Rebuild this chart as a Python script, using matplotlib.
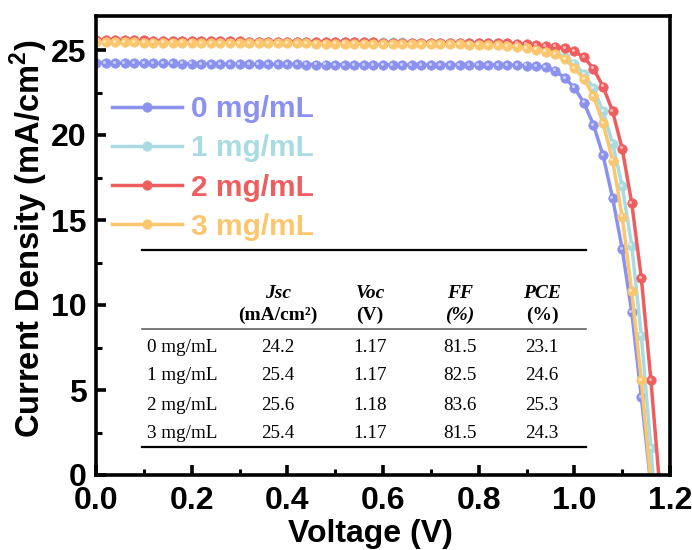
import matplotlib
matplotlib.use("Agg")
import matplotlib.pyplot as plt
from matplotlib.transforms import offset_copy

plt.rcParams['font.family'] = ['Liberation Sans', 'DejaVu Sans']
plt.rcParams['mathtext.fontset'] = 'custom'
plt.rcParams['mathtext.rm'] = 'Liberation Sans:bold'
plt.rcParams['mathtext.bf'] = 'Liberation Sans:bold'

# ---------------- data ----------------
voltage = [0.00, 0.02, 0.04, 0.06, 0.08, 0.10, 0.12, 0.14, 0.16, 0.18,
           0.20, 0.22, 0.24, 0.26, 0.28, 0.30, 0.32, 0.34, 0.36, 0.38,
           0.40, 0.42, 0.44, 0.46, 0.48, 0.50, 0.52, 0.54, 0.56, 0.58,
           0.60, 0.62, 0.64, 0.66, 0.68, 0.70, 0.72, 0.74, 0.76, 0.78,
           0.80, 0.82, 0.84, 0.86, 0.88, 0.90, 0.92, 0.94, 0.96, 0.98,
           1.00, 1.02, 1.04, 1.06, 1.08, 1.10, 1.12, 1.14, 1.16, 1.18]

j_0mg = [24.25, 24.24, 24.24, 24.23, 24.23, 24.22, 24.22, 24.21, 24.21, 24.20,
         24.20, 24.19, 24.19, 24.18, 24.18, 24.17, 24.17, 24.16, 24.16, 24.15,
         24.15, 24.15, 24.14, 24.14, 24.14, 24.13, 24.13, 24.13, 24.13, 24.13,
         24.12, 24.12, 24.12, 24.12, 24.12, 24.12, 24.12, 24.12, 24.12, 24.12,
         24.12, 24.12, 24.12, 24.11, 24.10, 24.08, 24.05, 23.98, 23.78, 23.36,
         22.78, 21.90, 20.60, 18.80, 16.30, 13.30, 9.60, 4.60, -0.60, -6.50]

j_1mg = [25.55, 25.55, 25.55, 25.54, 25.54, 25.54, 25.53, 25.53, 25.53, 25.52,
         25.52, 25.52, 25.51, 25.51, 25.51, 25.50, 25.50, 25.50, 25.49, 25.49,
         25.49, 25.48, 25.48, 25.48, 25.47, 25.47, 25.47, 25.46, 25.46, 25.46,
         25.45, 25.45, 25.45, 25.44, 25.44, 25.44, 25.43, 25.43, 25.42, 25.42,
         25.42, 25.41, 25.40, 25.38, 25.32, 25.24, 25.14, 25.02, 24.86, 24.60,
         24.20, 23.60, 22.75, 21.40, 19.50, 17.00, 13.50, 8.20, 1.60, -5.50]

j_2mg = [25.58, 25.58, 25.57, 25.57, 25.56, 25.56, 25.55, 25.55, 25.54, 25.54,
         25.53, 25.53, 25.52, 25.52, 25.51, 25.51, 25.50, 25.50, 25.49, 25.49,
         25.48, 25.48, 25.47, 25.47, 25.46, 25.46, 25.46, 25.45, 25.45, 25.45,
         25.44, 25.44, 25.44, 25.43, 25.43, 25.43, 25.42, 25.42, 25.42, 25.41,
         25.41, 25.41, 25.40, 25.40, 25.38, 25.35, 25.30, 25.25, 25.20, 25.12,
         24.92, 24.58, 23.90, 22.85, 21.40, 19.20, 16.00, 11.60, 5.60, -1.20]

j_3mg = [25.46, 25.46, 25.45, 25.45, 25.45, 25.44, 25.44, 25.44, 25.43, 25.43,
         25.43, 25.42, 25.42, 25.42, 25.41, 25.41, 25.41, 25.40, 25.40, 25.40,
         25.39, 25.39, 25.39, 25.38, 25.38, 25.38, 25.37, 25.37, 25.37, 25.36,
         25.36, 25.36, 25.35, 25.35, 25.35, 25.34, 25.34, 25.33, 25.33, 25.32,
         25.32, 25.30, 25.27, 25.24, 25.20, 25.12, 25.02, 24.90, 24.75, 24.45,
         23.95, 23.30, 22.30, 20.70, 18.50, 15.20, 10.80, 5.60, -0.40, -7.00]

series_labels = ["0 mg/mL", "1 mg/mL", "2 mg/mL", "3 mg/mL"]
series_values = [j_0mg, j_1mg, j_2mg, j_3mg]
series_colors = ["#8B92EE", "#A8DCE2", "#EF5E5E", "#FBC76E"]

table_cols = ["Jsc", "Voc", "FF", "PCE"]
table_units = ["(mA/cm²)", "(V)", "(%)", "(%)"]
table_rows = ["0 mg/mL", "1 mg/mL", "2 mg/mL", "3 mg/mL"]
table_vals = [["24.2", "1.17", "81.5", "23.1"],
              ["25.4", "1.17", "82.5", "24.6"],
              ["25.6", "1.18", "83.6", "25.3"],
              ["25.4", "1.17", "81.5", "24.3"]]

# ---------------- figure ----------------
W, H = 692, 550
fig = plt.figure(figsize=(W / 100, H / 100), dpi=100)
L, R, T, B = 96, 670, 16, 475
ax = fig.add_axes([L / W, (H - B) / H, (R - L) / W, (B - T) / H])

hl = offset_copy(ax.transData, fig=fig, x=-0.9, y=0.9, units='points')
for lab, vals, col in zip(series_labels, series_values, series_colors):
    ax.plot(voltage, vals, color=col, lw=2.5, marker='o', ms=6.8,
            mec=col, mfc=col, mew=0.5, label=lab)
    ax.plot(voltage, vals, ls='none', marker='o', ms=2.2, mfc='white',
            mec='none', alpha=0.55, transform=hl)

ax.set_xlim(0, 1.2)
ax.set_ylim(0, 27)
ax.set_xticks([0.0, 0.2, 0.4, 0.6, 0.8, 1.0, 1.2])
ax.set_xticks([0.1, 0.3, 0.5, 0.7, 0.9, 1.1], minor=True)
ax.set_yticks([0, 5, 10, 15, 20, 25])
ax.set_yticks([2.5, 7.5, 12.5, 17.5, 22.5], minor=True)
ax.xaxis.set_major_formatter(matplotlib.ticker.FormatStrFormatter('%.1f'))

for s in ax.spines.values():
    s.set_linewidth(2.6)
ax.tick_params(which='major', direction='in', length=7, width=2.6,
               labelsize=23, top=False, right=False)
ax.tick_params(axis='x', which='major', pad=8)
ax.tick_params(axis='y', which='major', pad=7)
ax.tick_params(which='minor', direction='in', length=4.5, width=2.2,
               top=False, right=False)
for t in ax.get_xticklabels() + ax.get_yticklabels():
    t.set_fontweight('bold')

ax.set_xlabel("Voltage (V)", fontsize=23, fontweight='bold', labelpad=0)
ax.xaxis.set_label_coords(0.478, -0.096, transform=ax.transAxes)
ax.xaxis.label.set_va('top')
ax.set_ylabel(r"Current Density (mA/cm$^\mathbf{2}$)", fontsize=23.5,
              fontweight='bold')
ax.yaxis.set_label_coords(-0.08, 0.515, transform=ax.transAxes)

leg = ax.legend(loc='upper left', bbox_to_anchor=(16 / 574, 0.827),
                frameon=False, handlelength=2.35, handletextpad=0.28,
                labelspacing=0.37, borderaxespad=0.0, borderpad=0.0,
                prop={'weight': 'bold', 'size': 21.5})
for txt, col in zip(leg.get_texts(), series_colors):
    txt.set_color(col)

# ---------------- inset table ----------------
def fx(px):
    return (px - L) / (R - L)

def fy(py):
    return (B - py) / (B - T)

x_left, x_right = fx(142), fx(586)
ax.plot([x_left, x_right], [fy(250), fy(250)], transform=ax.transAxes,
        color='black', lw=1.6)
ax.plot([x_left, x_right], [fy(329), fy(329)], transform=ax.transAxes,
        color='#555555', lw=1.1)
ax.plot([x_left, x_right], [fy(447), fy(447)], transform=ax.transAxes,
        color='black', lw=1.6)

serif = ['Liberation Serif', 'DejaVu Serif']
col_x = [fx(278), fx(370), fx(460), fx(542)]
for i, (c, u) in enumerate(zip(table_cols, table_units)):
    ax.text(col_x[i], fy(293), c, transform=ax.transAxes, ha='center',
            va='center', family=serif, fontsize=14, fontweight='bold',
            fontstyle='italic')
    ax.text(col_x[i], fy(315), u, transform=ax.transAxes, ha='center',
            va='center', family=serif, fontsize=14, fontweight='bold',
            fontstyle='italic' if c == "FF" else 'normal')

row_y = [fy(347), fy(376), fy(405), fy(434)]
for r, (name, vals) in enumerate(zip(table_rows, table_vals)):
    ax.text(fx(147), row_y[r], name, transform=ax.transAxes, ha='left',
            va='center', family=serif, fontsize=13.8)
    for i, v in enumerate(vals):
        ax.text(col_x[i], row_y[r], v, transform=ax.transAxes, ha='center',
                va='center', family=serif, fontsize=13.8)

fig.savefig("out.png", dpi=100)
